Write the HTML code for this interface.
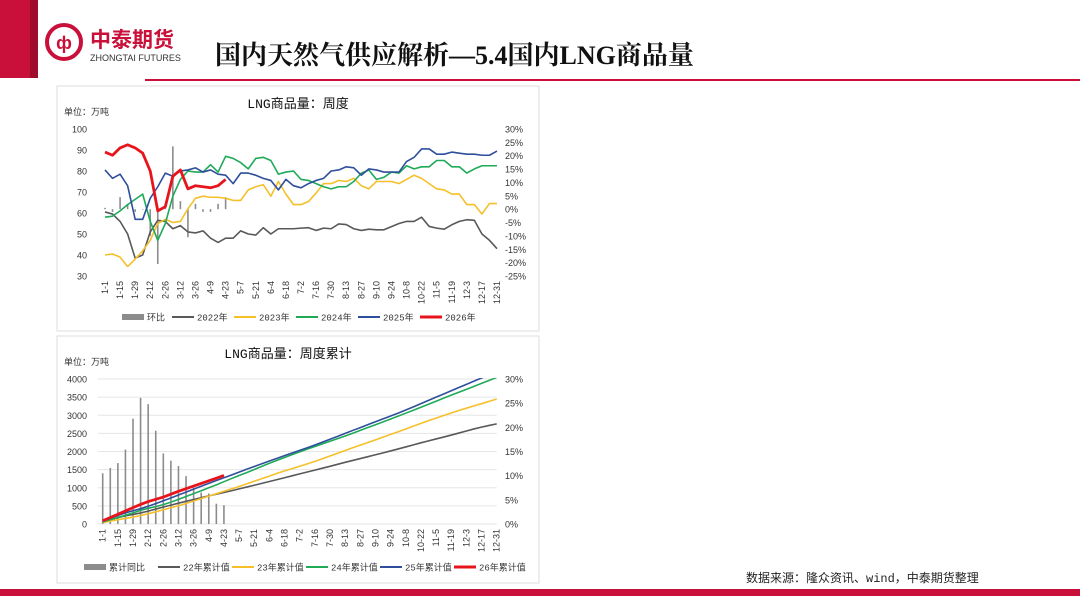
<!DOCTYPE html>
<html><head><meta charset="utf-8">
<style>
html,body{margin:0;padding:0;background:#fff;width:1080px;height:608px;overflow:hidden;font-family:"Liberation Sans","Noto Sans CJK SC",sans-serif;}
svg text{font-family:"Liberation Sans","Noto Sans CJK SC",sans-serif;}
svg text.serif{font-family:"Liberation Serif","Noto Serif CJK SC",serif;}
svg text.mono{font-family:"Liberation Mono","Noto Sans CJK SC",monospace;}
svg text.cjk{font-family:"Noto Sans CJK SC",sans-serif;}
</style></head>
<body>
<svg id="page" width="1080" height="608" viewBox="0 0 1080 608" xmlns="http://www.w3.org/2000/svg">
  <rect x="0" y="0" width="30" height="78" fill="#c8103a"/>
  <rect x="30" y="0" width="8" height="78" fill="#9e0d2e"/>
  <g>
    <circle cx="64" cy="42" r="17" fill="none" stroke="#c8103a" stroke-width="4"/>
    <text x="64" y="49" font-size="18" font-weight="bold" fill="#c8103a" text-anchor="middle">ф</text>
    <text x="90" y="47" font-size="21" font-weight="bold" fill="#c8103a" class="cjk">中泰期货</text>
    <text x="90" y="61" font-size="9" fill="#333">ZHONGTAI FUTURES</text>
  </g>
  <text x="215" y="64" font-size="26" class="serif" fill="#111" font-weight="bold">国内天然气供应解析—5.4国内LNG商品量</text>
  <rect x="145" y="79" width="935" height="2" fill="#c8103a"/>
  <rect x="0" y="589" width="1080" height="7" fill="#c8103a"/>
  <text x="746" y="582" font-size="12" fill="#222" class="mono">数据来源：隆众资讯、wind，中泰期货整理</text>

  <rect x="57" y="86" width="482" height="245" fill="#fff" stroke="#ddd"/>
  <g id="c1"></g>
  <rect x="57" y="336" width="482" height="247" fill="#fff" stroke="#ddd"/>
  <g id="c2"></g>
</svg>
<script>
const weekLabels=["1-1","1-15","1-29","2-12","2-26","3-12","3-26","4-9","4-23","5-7","5-21","6-4","6-18","7-2","7-16","7-30","8-13","8-27","9-10","9-24","10-8","10-22","11-5","11-19","12-3","12-17","12-31"];
const leftTicks1=[30,40,50,60,70,80,90,100];
const rightTicks1=[-25,-20,-15,-10,-5,0,5,10,15,20,25,30];
const s2022=[60.5,59.5,56,50,38.5,40,51,56.5,56,52.5,54,51,50.5,51.5,48,46,48,48,51.5,50,49.5,53,50,52.5,52.5,52.5,52.8,53,51.7,52.8,52.5,54.8,54.5,52.5,51.7,52.3,52,52,53.5,55,56,56,58,53.6,52.8,52.3,54.4,56,56.8,56.5,50,47,43];
const s2023=[40,40.5,39,34.5,38,42,47,55,57,55.5,56,62,67,68,67.5,67.5,67,66,66,71,72.5,73.5,68,75,69,64,64,65.5,69.5,74,74,75.5,75,76.5,73,71.5,75,75,75,74,76,78,76.5,74,71.5,71,69,69,64,64,59.5,64.5,64.5];
const s2024=[58,58.5,61,64,66.5,69,56,47,55,68,76,80,79.5,79.5,83,79.5,87,86,84,81,86,86.5,85,78.5,79.5,80,76,75.5,74,72.5,71.5,72.5,72.5,75,79,80.5,76,77,79.5,79,82.5,81,82,82,85,85,82,82,79,81,82.5,82.5,82.5];
const s2025=[80.5,76.5,78.5,73,57,57,67,72.5,79,77.5,80,80.5,81.5,79.5,80.5,78.5,78,74,79,79,78,76.5,75.5,71,76,73,72,74,75.5,76.5,80,80.5,82,81.5,78,81,80.5,79.5,79.5,79.5,84.5,86.5,90.5,90.5,88,88,89,88.5,88,88,87.5,87.5,89.5];
const s2026=[89,87.5,91,92.5,91,88.5,80,61,63,77.5,80.5,71.5,73,72.5,72,73,76];
const hb=[0.5,-1,4.5,2,-1,0,-10,-20.5,1,23.5,3,-10.5,2,-1,-1,2,4.5];
const leftTicks2=[0,500,1000,1500,2000,2500,3000,3500,4000];
const rightTicks2=[0,5,10,15,20,25,30];
const cumYoY=[10.5,11.6,12.6,15.4,21.8,26.1,24.8,19.3,14.6,13.1,12,9.9,7.5,6.5,6.3,4.2,3.9];

const NS="http://www.w3.org/2000/svg";
function mk(parent,tag,attrs,text){const e=document.createElementNS(NS,tag);for(const k in attrs)e.setAttribute(k,attrs[k]);if(text!==undefined)e.textContent=text;parent.appendChild(e);return e;}
function cum(a){let s=0;return a.map(v=>s+=v);}

function chart(g,o){
  const xS=i=>o.x0+i*(o.x1-o.x0)/52;
  const yL=v=>o.yb+(v-o.lmin)/(o.lmax-o.lmin)*(o.yt-o.yb);
  const yR=v=>o.yb+(v-o.rmin)/(o.rmax-o.rmin)*(o.yt-o.yb);
  let t=mk(g,'text',{x:o.tx,y:o.ty,'font-size':13,fill:'#111','text-anchor':'middle','class':'mono'},o.title);
  
  
  t=mk(g,'text',{x:64,y:o.ty+7,'font-size':9,fill:'#333','class':'mono'},'单位：万吨');
  
  
  o.lt.forEach(v=>{
    if(o.grid){const l=mk(g,'line',{x1:o.x0-5,x2:o.x1,y1:yL(v),y2:yL(v),stroke:'#e6e6e6','stroke-width':1});}
    const e=mk(g,'text',{x:87,y:yL(v)+3.5,'font-size':9,fill:'#333','text-anchor':'end'},v);
    
    
  });
  o.rt.forEach(v=>{
    const e=mk(g,'text',{x:505,y:yR(v)+3.5,'font-size':9,fill:'#333'},v+'%');
    
    
  });
  weekLabels.forEach((s,k)=>{
    const x=xS(k*2)+3, y=o.yb+5;
    const e=mk(g,'text',{x:x,y:y,'font-size':9,fill:'#333','text-anchor':'end',transform:`rotate(-90 ${x} ${y})`},s);
    
    
  });
  const bw=o.bw;
  o.bars.forEach((v,i)=>{
    const y0=yR(o.barBase),y1=yR(v);
    const r=mk(g,'rect',{x:xS(i)-bw/2,y:Math.min(y0,y1),width:bw,height:Math.max(0.5,Math.abs(y1-y0)),fill:'#8c8c8c'});
    
    
  });
  const clipId='clip'+o.id;
  const cp=mk(g,'clipPath',{id:clipId});mk(cp,'rect',{x:o.x0-10,y:o.yt-1,width:o.x1-o.x0+20,height:o.yb-o.yt+2});
  o.series.forEach(s=>{
    const p=mk(g,'polyline',{points:s.d.map((v,i)=>xS(i)+','+yL(v)).join(' '),fill:'none',stroke:s.c,'stroke-width':s.w,'stroke-linejoin':'round','clip-path':`url(#${clipId})`});
    
    
  });
  let lx=o.legX;
  o.legend.forEach(L=>{
    const lg=mk(g,'g',{});
    
    
    if(L.bar) mk(lg,'rect',{x:lx,y:o.legY-3,width:22,height:6,fill:'#8c8c8c'});
    else mk(lg,'line',{x1:lx,x2:lx+22,y1:o.legY,y2:o.legY,stroke:L.c,'stroke-width':L.w});
    mk(lg,'text',{x:lx+25,y:o.legY+3.5,'font-size':9,fill:'#333','class':'mono'},L.t);
    lx+=L.sp;
  });
}
chart(document.getElementById('c1'),{id:1,x0:105,x1:497,yt:129,yb:276,lmin:30,lmax:100,rmin:-25,rmax:30,
  lt:leftTicks1,rt:rightTicks1,grid:false,title:'LNG商品量：周度',tx:298,ty:108,bw:1.6,bars:hb,barBase:0,
  series:[{n:'2022',d:s2022,c:'#595959',w:1.6},{n:'2023',d:s2023,c:'#f5c02a',w:1.6},{n:'2024',d:s2024,c:'#1faa58',w:1.6},{n:'2025',d:s2025,c:'#2f4f9c',w:1.6},{n:'2026',d:s2026,c:'#e8141c',w:2.8}],
  legX:122,legY:317,legend:[{t:'环比',bar:1,sp:50},{t:'2022年',c:'#595959',w:2,sp:62},{t:'2023年',c:'#f5c02a',w:2,sp:62},{t:'2024年',c:'#1faa58',w:2,sp:62},{t:'2025年',c:'#2f4f9c',w:2,sp:62},{t:'2026年',c:'#e8141c',w:3,sp:62}]});
chart(document.getElementById('c2'),{id:2,x0:102.7,x1:496.7,yt:379,yb:524,lmin:0,lmax:4000,rmin:0,rmax:30,
  lt:leftTicks2,rt:rightTicks2,grid:true,title:'LNG商品量：周度累计',tx:288,ty:358,bw:1.6,bars:cumYoY,barBase:0,
  series:[{n:'22-cum',d:cum(s2022),c:'#595959',w:1.6},{n:'23-cum',d:cum(s2023),c:'#f5c02a',w:1.6},{n:'24-cum',d:cum(s2024),c:'#1faa58',w:1.6},{n:'25-cum',d:cum(s2025),c:'#2f4f9c',w:1.6},{n:'26-cum',d:cum(s2026),c:'#e8141c',w:2.8}],
  legX:84,legY:567,legend:[{t:'累计同比',bar:1,sp:74},{t:'22年累计值',c:'#595959',w:2,sp:74},{t:'23年累计值',c:'#f5c02a',w:2,sp:74},{t:'24年累计值',c:'#1faa58',w:2,sp:74},{t:'25年累计值',c:'#2f4f9c',w:2,sp:74},{t:'26年累计值',c:'#e8141c',w:3,sp:74}]});
</script>
</body></html>
